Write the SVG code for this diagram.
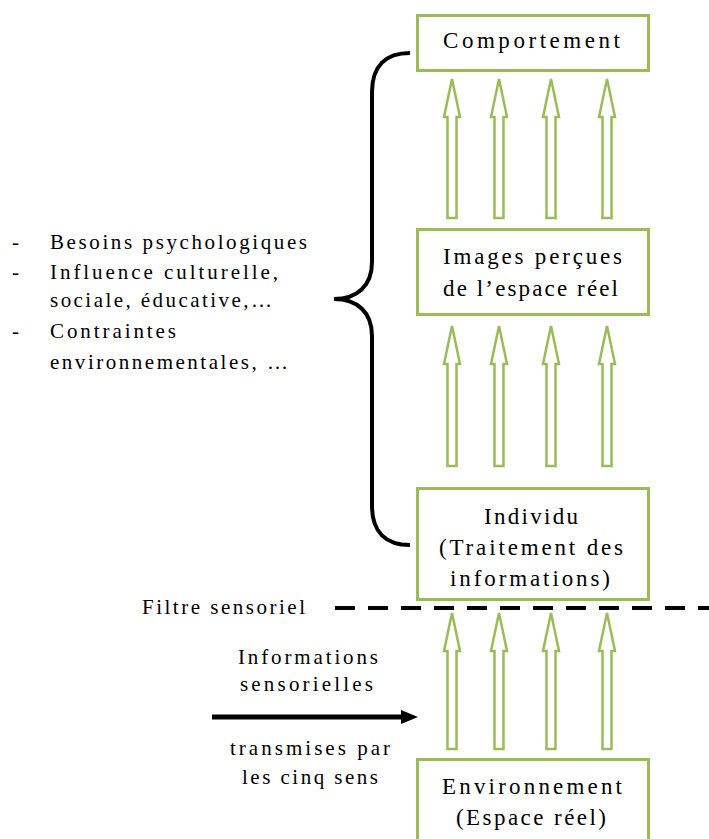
<svg xmlns="http://www.w3.org/2000/svg" width="709" height="839" viewBox="0 0 709 839">
<style>
.box{fill:#fff;stroke:#9BBB59;stroke-width:3}
.arr{fill:#fff;stroke:#9BBB59;stroke-width:2.5;stroke-linejoin:miter}
.t{font-family:"Liberation Serif","DejaVu Serif",serif;font-size:23px;fill:#000}
.l{font-family:"Liberation Serif","DejaVu Serif",serif;font-size:21px;fill:#000}
</style>
<rect width="709" height="839" fill="#fff"/>
<g id="connectors">
<g id="arrows-row1">
<path class="arr" d="M452,79 L460,117 L456.5,117 L456.5,218 L447.5,218 L447.5,117 L444,117 Z"/>
<path class="arr" d="M499,79 L507,117 L503.5,117 L503.5,218 L494.5,218 L494.5,117 L491,117 Z"/>
<path class="arr" d="M551,79 L559,117 L555.5,117 L555.5,218 L546.5,218 L546.5,117 L543,117 Z"/>
<path class="arr" d="M607,79 L615,117 L611.5,117 L611.5,218 L602.5,218 L602.5,117 L599,117 Z"/>
</g>
<g id="arrows-row2">
<path class="arr" d="M452,326 L460,364 L456.5,364 L456.5,466 L447.5,466 L447.5,364 L444,364 Z"/>
<path class="arr" d="M499,326 L507,364 L503.5,364 L503.5,466 L494.5,466 L494.5,364 L491,364 Z"/>
<path class="arr" d="M551,326 L559,364 L555.5,364 L555.5,466 L546.5,466 L546.5,364 L543,364 Z"/>
<path class="arr" d="M607,326 L615,364 L611.5,364 L611.5,466 L602.5,466 L602.5,364 L599,364 Z"/>
</g>
<g id="arrows-row3">
<path class="arr" d="M452,613 L460,651 L456.5,651 L456.5,749 L447.5,749 L447.5,651 L444,651 Z"/>
<path class="arr" d="M499,613 L507,651 L503.5,651 L503.5,749 L494.5,749 L494.5,651 L491,651 Z"/>
<path class="arr" d="M551,613 L559,651 L555.5,651 L555.5,749 L546.5,749 L546.5,651 L543,651 Z"/>
<path class="arr" d="M607,613 L615,651 L611.5,651 L611.5,749 L602.5,749 L602.5,651 L599,651 Z"/>
</g>
<path id="brace" d="M410,53 C386,53 372,66 372,92 L372,262 C372,286 357,299 334,299 C357,299 372,312 372,336 L372,506 C372,532 386,545 410,545" fill="none" stroke="#000" stroke-width="4"/>
<line id="filtre-line" x1="335" y1="608" x2="712" y2="608" stroke="#000" stroke-width="4" stroke-dasharray="20 13"/>
<g id="info-arrow">
<line x1="212" y1="717" x2="404" y2="717" stroke="#000" stroke-width="5"/>
<polygon points="401,710 418,717 401,724" fill="#000"/>
</g>
</g>
<g id="comportement">
<rect class="box" x="417.5" y="15.5" width="231" height="55"/>
<text class="t" x="443" y="48" textLength="177" lengthAdjust="spacing">Comportement</text>
</g>
<g id="images">
<rect class="box" x="417.5" y="229.5" width="231" height="85"/>
<text class="t" x="443" y="264" textLength="179" lengthAdjust="spacing">Images perçues</text>
<text class="t" x="443" y="296" textLength="175" lengthAdjust="spacing">de l’espace réel</text>
</g>
<g id="individu">
<rect class="box" x="417.5" y="488.5" width="231" height="111"/>
<text class="t" x="484" y="524" textLength="94" lengthAdjust="spacing">Individu</text>
<text class="t" x="439" y="555" textLength="184" lengthAdjust="spacing">(Traitement des</text>
<text class="t" x="450" y="586" textLength="160" lengthAdjust="spacing">informations)</text>
</g>
<g id="environnement">
<rect class="box" x="417.5" y="759.5" width="231" height="100"/>
<text class="t" x="442" y="794" textLength="180" lengthAdjust="spacing">Environnement</text>
<text class="t" x="456" y="825" textLength="150" lengthAdjust="spacing">(Espace réel)</text>
</g>
<g id="facteurs">
<text class="l" x="12" y="249">-</text>
<text class="l" x="50" y="249" textLength="257" lengthAdjust="spacing">Besoins psychologiques</text>
<text class="l" x="12" y="279">-</text>
<text class="l" x="50" y="279" textLength="228" lengthAdjust="spacing">Influence culturelle,</text>
<text class="l" x="50" y="307" textLength="222" lengthAdjust="spacing">sociale, éducative,…</text>
<text class="l" x="12" y="338">-</text>
<text class="l" x="50" y="338" textLength="126" lengthAdjust="spacing">Contraintes</text>
<text class="l" x="50" y="369" textLength="238" lengthAdjust="spacing">environnementales, …</text>
</g>
<g id="filtre">
<text class="l" x="142" y="614" textLength="163" lengthAdjust="spacing">Filtre sensoriel</text>
</g>
<g id="informations">
<text class="l" x="238" y="664" textLength="140" lengthAdjust="spacing">Informations</text>
<text class="l" x="240" y="691" textLength="133" lengthAdjust="spacing">sensorielles</text>
<text class="l" x="230" y="755" textLength="160" lengthAdjust="spacing">transmises par</text>
<text class="l" x="242" y="784" textLength="136" lengthAdjust="spacing">les cinq sens</text>
</g>
</svg>
